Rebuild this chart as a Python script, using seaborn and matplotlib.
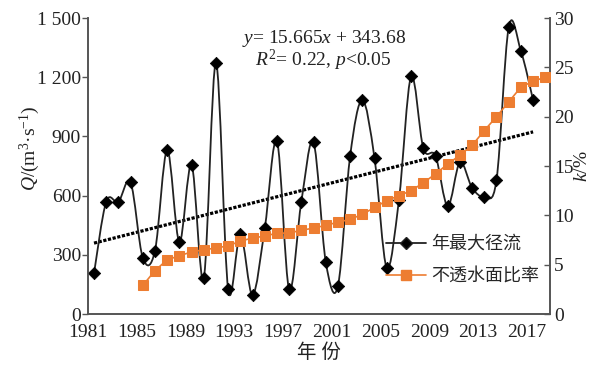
import matplotlib
matplotlib.use("Agg")
import matplotlib.pyplot as plt
import numpy as np
import pandas as pd
import seaborn as sns
from matplotlib.lines import Line2D
from matplotlib.path import Path
from matplotlib.patches import PathPatch

# annual max runoff (m3/s), 1981-2017
runoff_years = list(range(1981, 2018))
runoff = [206, 569, 569, 667, 285, 321, 831, 365, 757, 182,
          1274, 125, 404, 96, 434, 877, 125, 569, 870, 265,
          142, 801, 1085, 789, 235, 578, 1206, 840, 801, 547,
          769, 640, 595, 679, 1453, 1334, 1085]

# impervious surface ratio (%), 1985-2018
imp_years = list(range(1985, 2019))
imp_ratio = [2.9, 4.4, 5.5, 5.9, 6.3, 6.5, 6.7, 6.9, 7.4, 7.7,
             7.9, 8.2, 8.2, 8.5, 8.7, 9.0, 9.3, 9.6, 10.1, 10.8,
             11.5, 12.0, 12.5, 13.3, 14.2, 15.2, 16.1, 17.1, 18.6, 20.0,
             21.5, 23.0, 23.6, 24.0]

# linear trend printed on the chart (x = 1, 2, ... index of year)
slope, intercept = 15.665, 343.68

x_tick_years = [1981, 1985, 1989, 1993, 1997, 2001, 2005, 2009, 2013, 2017]
q_ticks = [0, 300, 600, 900, 1200, 1500]
q_labels = ["0", "300", "600", "900", "1 200", "1 500"]
k_ticks = [0, 5, 10, 15, 20, 25, 30]

df_q = pd.DataFrame({"year": runoff_years, "Q": runoff})
df_k = pd.DataFrame({"year": imp_years, "k": imp_ratio})

sns.set_style("white")
plt.rcParams["font.family"] = ["Liberation Serif", "Noto Sans CJK SC"]
plt.rcParams["mathtext.fontset"] = "custom"
plt.rcParams["mathtext.rm"] = "Liberation Serif"
plt.rcParams["mathtext.it"] = "Liberation Serif:italic"

orange = "#ED7D31"
spine_c = "#555555"

fig = plt.figure(figsize=(5.98, 3.69), dpi=100)
ax = fig.add_axes([0.147, 0.149, 0.773, 0.802])
ax2 = ax.twinx()

# smooth (catmull-rom style) curve through runoff points, like an excel smoothed line
xs = df_q["year"].to_numpy(dtype=float)
ys = df_q["Q"].to_numpy(dtype=float)
pts = np.column_stack([xs, ys])
verts = [pts[0]]
codes = [Path.MOVETO]
for i in range(len(pts) - 1):
    p0 = pts[i - 1] if i > 0 else pts[i]
    p1 = pts[i]
    p2 = pts[i + 1]
    p3 = pts[i + 2] if i + 2 < len(pts) else pts[i + 1]
    c1 = p1 + (p2 - p0) / 6.0
    c2 = p2 - (p3 - p1) / 6.0
    verts += [c1, c2, p2]
    codes += [Path.CURVE4] * 3
ax.add_patch(PathPatch(Path(verts, codes), facecolor="none",
                       edgecolor="#222222", lw=1.3, zorder=3))

sns.scatterplot(data=df_q, x="year", y="Q", ax=ax, marker="D", s=40,
                color="black", edgecolor="black", zorder=4, legend=False)

# trend line
idx = np.arange(1, len(runoff_years) + 1)
ax.plot(runoff_years, slope * idx + intercept, color="black",
        lw=2.3, ls=(0, (1, 0.5)), zorder=2)

sns.lineplot(data=df_k, x="year", y="k", ax=ax2, color=orange, lw=1.2,
             marker="s", markersize=7, markeredgecolor=orange, zorder=3,
             legend=False)

ax.set_xlim(1980.5, 2018.4)
ax.set_ylim(0, 1500)
ax2.set_ylim(0, 30)

ax.set_xticks([y - 0.5 for y in x_tick_years])
ax.set_xticklabels([str(y) for y in x_tick_years])
ax.set_yticks(q_ticks)
ax.set_yticklabels(q_labels)
ax2.set_yticks(k_ticks)
ax2.set_yticklabels([str(v) for v in k_ticks])

for a in (ax, ax2):
    a.spines["top"].set_visible(False)
    for s in ("left", "right", "bottom"):
        a.spines[s].set_color(spine_c)
        a.spines[s].set_linewidth(1.2)
    a.grid(False)

ax.tick_params(axis="x", direction="in", length=5, width=1, colors=spine_c,
               labelcolor="#222222", labelsize=14, pad=7)
ax.tick_params(axis="y", direction="out", length=4, width=1, colors=spine_c,
               labelcolor="#222222", labelsize=14, pad=1)
ax2.tick_params(axis="y", direction="in", length=4, width=1, colors=spine_c,
                labelcolor="#222222", labelsize=14, pad=3)

ax.set_xlabel("年 份", fontsize=14, labelpad=2, color="#222222")
ax.set_ylabel(r"$Q$/(m$^3$·s$^{-1}$)", fontsize=14, labelpad=0, color="#222222")
ax.yaxis.set_label_coords(-0.1, 0.56)
ax2.set_ylabel(r"$k$/%", fontsize=14, labelpad=0, color="#222222")

ax.text(0.51, 0.93, r"$y$= 15.665$x$ + 343.68", transform=ax.transAxes,
        ha="center", va="center", fontsize=14, color="#222222")
ax.text(0.51, 0.857, r"$R^2$= 0.22, $p$<0.05", transform=ax.transAxes,
        ha="center", va="center", fontsize=14, color="#222222")

handles = [
    Line2D([], [], color="#222222", lw=1.3, marker="D", markersize=6,
           markerfacecolor="black"),
    Line2D([], [], color=orange, lw=1.2, marker="s", markersize=7,
           markerfacecolor=orange, markeredgecolor=orange),
]
ax2.legend(handles, ["年最大径流", "不透水面比率"], loc="lower right",
           bbox_to_anchor=(1.0, 0.06), frameon=False, fontsize=13,
           handlelength=2.2, handletextpad=0.3, labelspacing=0.85,
           borderaxespad=0.2)

fig.savefig("out.png", dpi=100)
